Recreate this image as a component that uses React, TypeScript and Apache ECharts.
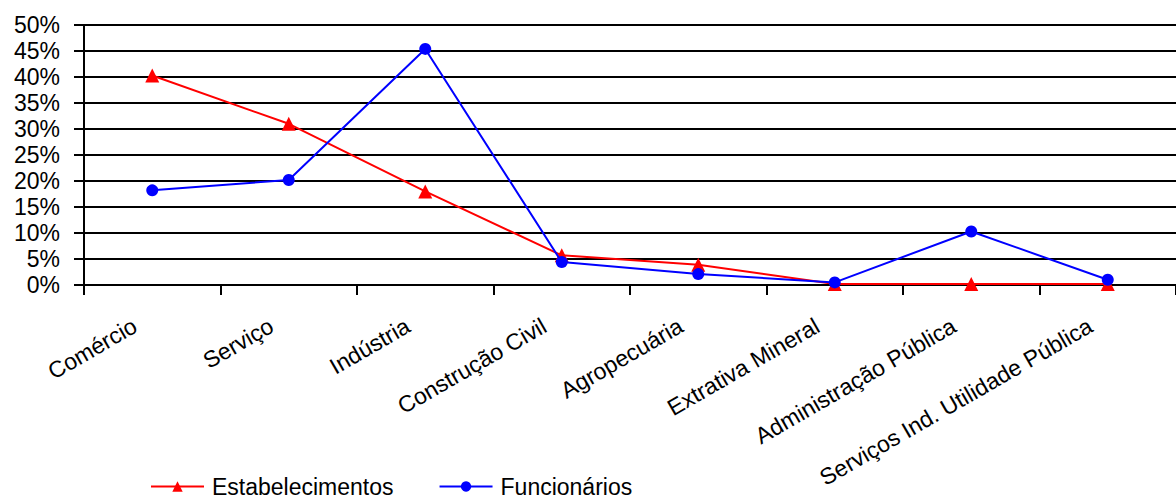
import React, { useEffect, useRef } from "react";
import * as echarts from "echarts";

const categories = [
  "Comércio",
  "Serviço",
  "Indústria",
  "Construção Civil",
  "Agropecuária",
  "Extrativa Mineral",
  "Administração Pública",
  "Serviços Ind. Utilidade Pública",
];
const estabelecimentos = [40.3, 31.0, 18.0, 5.7, 3.9, 0.2, 0.2, 0.2];
const funcionarios = [18.2, 20.2, 45.4, 4.4, 2.1, 0.5, 10.3, 1.0];

const FONT = "'Liberation Sans', Arial, sans-serif";

export default function App() {
  const ref = useRef<HTMLDivElement>(null);
  useEffect(() => {
    if (!ref.current) return;
    const chart = echarts.init(ref.current, undefined, { renderer: "svg" });
    chart.setOption({
      animation: false,
      backgroundColor: "#ffffff",
      textStyle: { fontFamily: FONT },
      grid: { left: 84, top: 25, width: 1096, height: 260, containLabel: false },
      legend: {
        top: 475,
        left: 150,
        itemWidth: 53,
        itemHeight: 13,
        itemGap: 45,
        padding: 0,
        textStyle: { fontSize: 23, color: "#000", fontFamily: FONT, padding: [0, 0, 0, 3] },
        data: ["Estabelecimentos", "Funcionários"],
      },
      xAxis: {
        type: "category",
        data: categories,
        boundaryGap: true,
        axisLine: { lineStyle: { color: "#000", width: 2 } },
        axisTick: { show: true, length: 10, inside: false, lineStyle: { color: "#000", width: 2 } },
        axisLabel: {
          interval: 0,
          rotate: 30,
          margin: 29,
          padding: [0, 20, 0, 0],
          fontSize: 23,
          color: "#000",
          fontFamily: FONT,
        },
      },
      yAxis: {
        type: "value",
        min: 0,
        max: 50,
        interval: 5,
        axisLine: { show: true, lineStyle: { color: "#000", width: 2 } },
        axisTick: { show: true, length: 10, lineStyle: { color: "#000", width: 2 } },
        splitLine: { show: true, lineStyle: { color: "#000", width: 2 } },
        axisLabel: {
          margin: 24,
          fontSize: 23,
          color: "#000",
          fontFamily: FONT,
          formatter: (v: number) => `${v}%`,
        },
      },
      series: [
        {
          name: "Estabelecimentos",
          type: "line",
          data: estabelecimentos,
          symbol: "triangle",
          symbolSize: 14,
          lineStyle: { color: "#ff0000", width: 2 },
          itemStyle: { color: "#ff0000" },
          z: 3,
        },
        {
          name: "Funcionários",
          type: "line",
          data: funcionarios,
          symbol: "circle",
          symbolSize: 12,
          lineStyle: { color: "#0000ff", width: 2 },
          itemStyle: { color: "#0000ff" },
          z: 4,
        },
      ],
    });
    return () => chart.dispose();
  }, []);
  return (
    <div
      ref={ref}
      style={{ position: "fixed", left: 0, top: 0, width: 1176, height: 499, background: "#fff" }}
    />
  );
}
